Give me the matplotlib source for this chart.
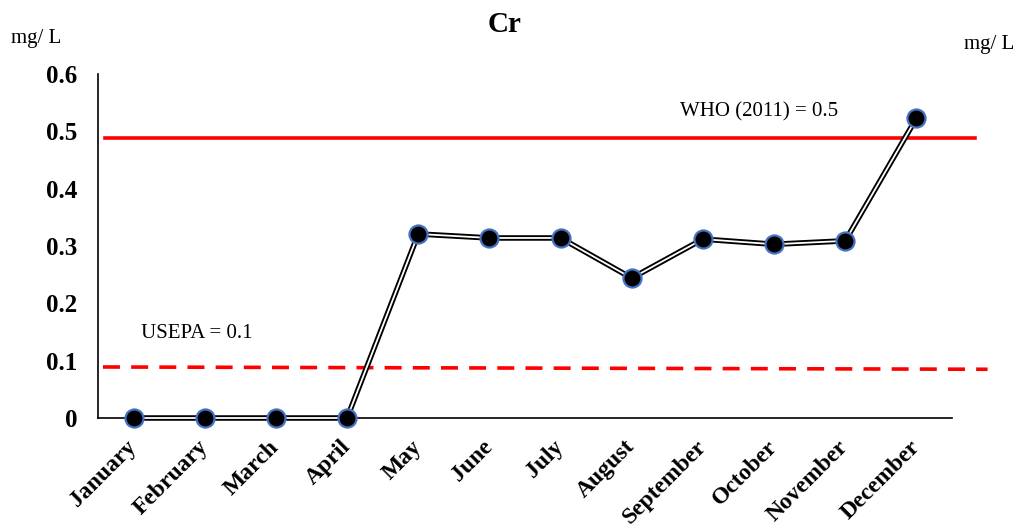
"""Monthly Cr concentration against WHO and USEPA limits."""

import matplotlib.pyplot as plt
import numpy as np

plt.rcParams["font.family"] = ["Liberation Serif", "DejaVu Serif"]

MONTHS = [
    "January", "February", "March", "April", "May", "June",
    "July", "August", "September", "October", "November", "December",
]
CR_VALUES = [0.0, 0.0, 0.0, 0.0, 0.321, 0.314, 0.314, 0.244, 0.312, 0.303, 0.309, 0.523]
WHO_LIMIT = 0.488
USEPA_LIMIT = [0.089, 0.085]  # drawn line drifts slightly downward
Y_TICKS = [0, 0.1, 0.2, 0.3, 0.4, 0.5, 0.6]
Y_TICK_LABELS = ["0", "0.1", "0.2", "0.3", "0.4", "0.5", "0.6"]

fig = plt.figure(figsize=(10.19, 5.27), dpi=100)
ax = fig.add_axes([98 / 1019, 1 - 418 / 527, 854 / 1019, 344 / 527])

x = np.arange(len(MONTHS))

# reference lines run a little past the plot area
ax.plot([-0.4, 11.82], [WHO_LIMIT, WHO_LIMIT], color="#ff0000", lw=2.6, clip_on=False, zorder=2)
ax.plot([-0.43, 12.0], USEPA_LIMIT, color="#ff0000", lw=2.6, ls=(0, (4.7, 3.1)),
        clip_on=False, zorder=2)

# double line: black outer stroke with white core
ax.plot(x, CR_VALUES, color="black", lw=4.0, clip_on=False, zorder=3)
ax.plot(x, CR_VALUES, color="white", lw=1.3, clip_on=False, zorder=4)
ax.plot(x, CR_VALUES, ls="none", marker="o", ms=13, mfc="black", mec="#4472c4", mew=1.6,
        clip_on=False, zorder=5)

ax.set_xlim(-0.5, 11.5)
ax.set_ylim(0, 0.6)
ax.set_yticks(Y_TICKS)
ax.set_yticklabels(Y_TICK_LABELS, fontsize=18, fontweight="bold")
ax.set_xticks(x)
ax.set_xticklabels(MONTHS, fontsize=17, fontweight="bold", rotation=45, ha="right",
                   va="center", rotation_mode="anchor")
ax.tick_params(axis="both", length=0)
ax.tick_params(axis="y", pad=15)
ax.tick_params(axis="x", pad=18.5)

for side in ("top", "right"):
    ax.spines[side].set_visible(False)
ax.spines["left"].set_linewidth(1.2)
ax.spines["bottom"].set_linewidth(1.2)

fig.text(759 / 1019, 1 - 112 / 527, "WHO (2011) = 0.5", fontsize=15, ha="center", va="center")
fig.text(197 / 1019, 1 - 334 / 527, "USEPA = 0.1", fontsize=15, ha="center", va="center")

fig.text(505 / 1019, 1 - 25 / 527, "Cr", fontsize=21, fontweight="bold", ha="center", va="center")
fig.text(36 / 1019, 1 - 38 / 527, "mg/ L", fontsize=15, ha="center", va="center")
fig.text(989 / 1019, 1 - 44 / 527, "mg/ L", fontsize=15, ha="center", va="center")

fig.savefig("out.png", dpi=100)
